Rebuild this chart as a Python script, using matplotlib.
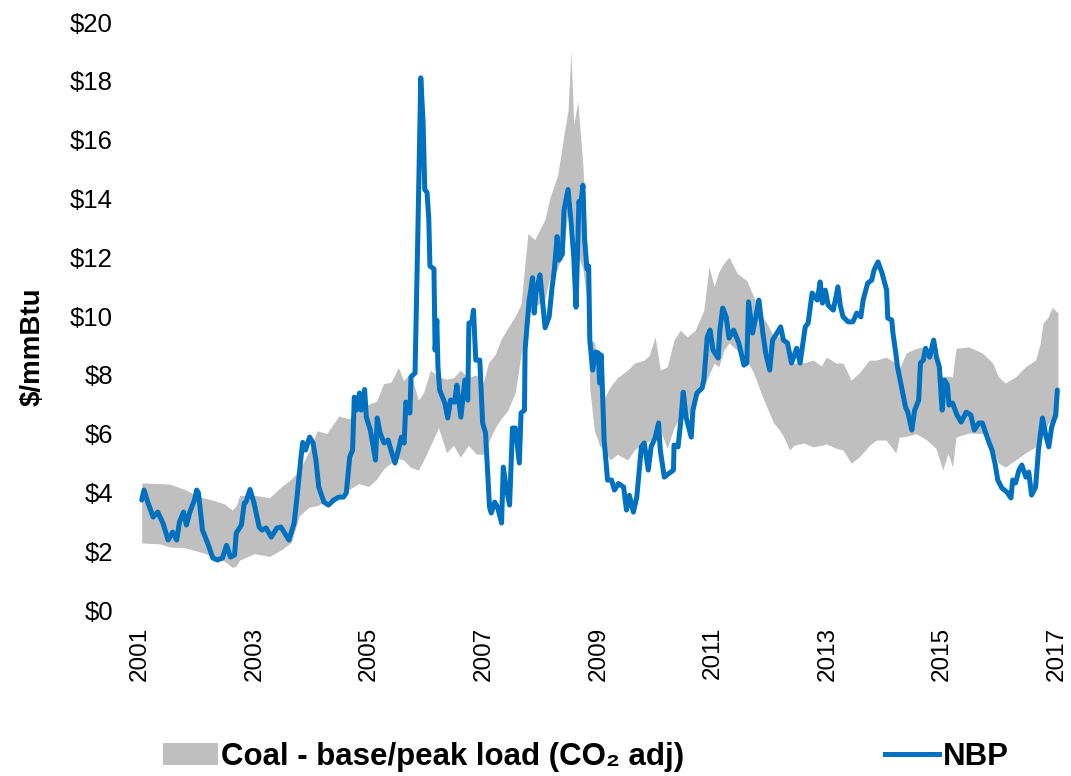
import numpy as np
import matplotlib; matplotlib.use("Agg")
import matplotlib.pyplot as plt
from matplotlib.patches import Patch
from matplotlib.lines import Line2D

plt.rcParams["font.family"] = ["Liberation Sans", "DejaVu Sans"]

# ---- coal band (CO2 adjusted): decimal year, lower/upper $/mmBtu ----
band_year = [2001.03, 2001.35, 2001.52, 2001.78, 2002.04, 2002.30, 2002.48, 2002.61, 2002.68, 2002.74,
             2003.00, 2003.26, 2003.47, 2003.64, 2003.78, 2003.95, 2004.09, 2004.26, 2004.47, 2004.65,
             2004.82, 2004.99, 2005.13, 2005.25, 2005.38, 2005.51, 2005.60, 2005.72, 2005.86, 2005.95,
             2006.07, 2006.21, 2006.35, 2006.47, 2006.59, 2006.73, 2006.87, 2006.99, 2007.08, 2007.20,
             2007.30, 2007.42, 2007.55, 2007.65, 2007.77, 2007.89, 2008.07, 2008.15, 2008.29, 2008.41,
             2008.47, 2008.52, 2008.57, 2008.64, 2008.73, 2008.80, 2008.85, 2008.93, 2009.02, 2009.11,
             2009.21, 2009.33, 2009.51, 2009.63, 2009.80, 2009.89, 2009.99, 2010.08, 2010.20, 2010.32,
             2010.43, 2010.55, 2010.69, 2010.84, 2010.93, 2011.02, 2011.10, 2011.19, 2011.28, 2011.42,
             2011.59, 2011.71, 2011.82, 2011.94, 2012.06, 2012.16, 2012.23, 2012.34, 2012.41, 2012.58,
             2012.75, 2012.89, 2012.98, 2013.15, 2013.27, 2013.41, 2013.55, 2013.73, 2013.85, 2014.02,
             2014.19, 2014.25, 2014.37, 2014.54, 2014.72, 2014.89, 2015.01, 2015.10, 2015.18, 2015.24,
             2015.46, 2015.70, 2015.88, 2015.98, 2016.10, 2016.28, 2016.45, 2016.63, 2016.71, 2016.76,
             2016.85, 2016.92, 2017.02]
band_high = [4.32, 4.30, 4.28, 4.10, 3.85, 3.72, 3.60, 3.40, 3.55, 3.90,
             3.90, 3.82, 4.20, 4.45, 4.75, 5.40, 6.10, 6.00, 6.60, 6.50,
             6.80, 7.00, 7.10, 7.70, 7.75, 8.25, 7.80, 8.06, 7.14, 7.40,
             8.16, 7.93, 7.85, 7.90, 8.16, 7.90, 8.00, 7.72, 8.40, 8.70,
             9.20, 9.60, 10.0, 10.4, 12.8, 12.6, 13.3, 14.0, 14.8, 16.3,
             17.0, 19.0, 16.5, 17.3, 15.1, 12.1, 9.20, 9.10, 7.90, 7.24,
             7.60, 7.90, 8.16, 8.40, 8.50, 8.67, 9.29, 8.16, 8.27, 9.18,
             9.52, 9.29, 9.52, 10.2, 11.67, 11.0, 11.5, 11.8, 12.0, 11.46,
             11.2, 10.65, 10.1, 9.76, 9.29, 9.30, 9.18, 8.90, 8.40, 8.40,
             8.50, 8.30, 8.60, 8.40, 8.40, 7.82, 8.06, 8.50, 8.50, 8.60,
             8.40, 8.20, 8.74, 8.90, 8.95, 8.60, 7.93, 7.95, 7.93, 8.90,
             8.95, 8.74, 8.40, 7.93, 7.72, 7.93, 8.27, 8.50, 9.08, 9.76,
             9.97, 10.3, 10.1]
band_low = [2.28, 2.25, 2.14, 2.12, 1.98, 1.82, 1.65, 1.45, 1.50, 1.70,
            1.92, 1.82, 2.05, 2.30, 3.20, 3.50, 3.55, 3.70, 3.90, 4.10,
            4.30, 4.20, 4.45, 4.80, 5.00, 5.15, 5.10, 4.85, 4.76, 5.10,
            5.60, 6.20, 5.35, 5.60, 5.20, 5.60, 5.30, 5.30, 5.70, 6.20,
            6.50, 6.80, 7.40, 8.70, 10.1, 10.3, 10.6, 11.3, 11.6, 12.5,
            13.6, 14.0, 13.0, 12.1, 11.6, 10.5, 7.50, 6.10, 5.60, 5.40,
            5.10, 5.30, 5.10, 5.45, 5.68, 5.75, 5.90, 6.12, 5.50, 6.20,
            6.56, 6.50, 7.20, 7.60, 8.00, 8.40, 8.27, 8.84, 9.08, 8.84,
            8.50, 8.06, 7.48, 6.90, 6.36, 6.12, 5.90, 5.44, 5.60, 5.68,
            5.55, 5.60, 5.65, 5.50, 5.44, 5.00, 5.20, 5.60, 5.78, 5.78,
            5.34, 5.88, 5.90, 6.00, 5.80, 5.50, 4.76, 5.34, 4.86, 5.88,
            6.02, 6.00, 5.55, 5.00, 4.86, 5.10, 5.34, 5.55, 5.75, 5.88,
            6.36, 6.45, 6.56]

# ---- NBP gas price: decimal year, $/mmBtu ----
nbp_year = [2001.03, 2001.07, 2001.14, 2001.23, 2001.31, 2001.40, 2001.49, 2001.57, 2001.64, 2001.69,
            2001.76, 2001.81, 2001.87, 2001.95, 2001.99, 2002.02, 2002.09, 2002.18, 2002.27, 2002.35,
            2002.44, 2002.51, 2002.58, 2002.65, 2002.68, 2002.77, 2002.82, 2002.85, 2002.92, 2002.99,
            2003.08, 2003.13, 2003.20, 2003.29, 2003.39, 2003.46, 2003.60, 2003.69, 2003.74, 2003.81,
            2003.84, 2003.89, 2003.96, 2004.02, 2004.07, 2004.12, 2004.21, 2004.29, 2004.38, 2004.47,
            2004.55, 2004.60, 2004.66, 2004.71, 2004.74, 2004.78, 2004.83, 2004.86, 2004.92, 2004.95,
            2005.02, 2005.11, 2005.14, 2005.19, 2005.26, 2005.33, 2005.38, 2005.45, 2005.51, 2005.56,
            2005.61, 2005.64, 2005.71, 2005.73, 2005.80, 2005.85, 2005.90, 2005.94, 2005.97, 2006.01,
            2006.04, 2006.06, 2006.13, 2006.15, 2006.18, 2006.20, 2006.23, 2006.32, 2006.37, 2006.42,
            2006.49, 2006.53, 2006.60, 2006.67, 2006.72, 2006.74, 2006.79, 2006.82, 2006.86, 2006.93,
            2006.98, 2007.03, 2007.10, 2007.13, 2007.19, 2007.24, 2007.31, 2007.34, 2007.39, 2007.45,
            2007.50, 2007.55, 2007.62, 2007.65, 2007.71, 2007.72, 2007.79, 2007.85, 2007.88, 2007.91,
            2007.98, 2008.07, 2008.14, 2008.19, 2008.23, 2008.28, 2008.31, 2008.37, 2008.40, 2008.47,
            2008.52, 2008.57, 2008.61, 2008.66, 2008.69, 2008.73, 2008.76, 2008.80, 2008.83, 2008.85,
            2008.90, 2008.95, 2009.00, 2009.02, 2009.05, 2009.10, 2009.16, 2009.23, 2009.28, 2009.35,
            2009.44, 2009.49, 2009.54, 2009.61, 2009.67, 2009.75, 2009.80, 2009.87, 2009.92, 2009.99,
            2010.05, 2010.08, 2010.15, 2010.24, 2010.31, 2010.32, 2010.39, 2010.44, 2010.48, 2010.53,
            2010.62, 2010.65, 2010.72, 2010.81, 2010.84, 2010.90, 2010.95, 2011.00, 2011.09, 2011.12,
            2011.17, 2011.23, 2011.28, 2011.36, 2011.45, 2011.54, 2011.59, 2011.62, 2011.69, 2011.75,
            2011.80, 2011.87, 2011.92, 2011.99, 2012.04, 2012.13, 2012.18, 2012.23, 2012.30, 2012.37,
            2012.46, 2012.52, 2012.61, 2012.66, 2012.73, 2012.82, 2012.87, 2012.91, 2012.96, 2013.01,
            2013.10, 2013.18, 2013.22, 2013.27, 2013.36, 2013.44, 2013.51, 2013.58, 2013.62, 2013.70,
            2013.77, 2013.81, 2013.88, 2013.95, 2014.03, 2014.05, 2014.12, 2014.14, 2014.19, 2014.22,
            2014.29, 2014.36, 2014.40, 2014.47, 2014.52, 2014.59, 2014.62, 2014.67, 2014.71, 2014.78,
            2014.85, 2014.90, 2014.95, 2014.99, 2015.00, 2015.04, 2015.09, 2015.12, 2015.18, 2015.26,
            2015.33, 2015.42, 2015.50, 2015.56, 2015.64, 2015.70, 2015.76, 2015.82, 2015.87, 2015.92,
            2015.97, 2016.04, 2016.13, 2016.20, 2016.23, 2016.28, 2016.34, 2016.39, 2016.46, 2016.51,
            2016.56, 2016.63, 2016.68, 2016.75, 2016.80, 2016.86, 2016.91, 2016.98, 2017.01]
nbp_price = [3.74, 4.08, 3.64, 3.16, 3.33, 2.96, 2.38, 2.65, 2.38, 3.00,
             3.33, 2.89, 3.33, 3.74, 4.08, 3.98, 2.72, 2.28, 1.77, 1.70,
             1.77, 2.20, 1.80, 1.87, 2.62, 2.89, 3.64, 3.67, 4.10, 3.64,
             2.82, 2.72, 2.79, 2.48, 2.79, 2.82, 2.38, 2.96, 3.84, 5.20,
             5.70, 5.44, 5.88, 5.68, 5.10, 4.18, 3.67, 3.57, 3.74, 3.84,
             3.84, 3.98, 5.20, 5.44, 7.24, 6.80, 7.38, 6.80, 7.50, 6.56,
             6.12, 5.10, 6.53, 6.02, 5.68, 5.78, 5.44, 5.00, 5.44, 5.88,
             5.68, 7.07, 6.70, 7.93, 8.06, 12.9, 18.1, 16.6, 14.3, 14.2,
             13.3, 11.7, 11.6, 8.84, 9.86, 8.27, 7.48, 7.04, 6.53, 7.14,
             7.07, 7.65, 6.56, 7.82, 7.14, 9.76, 9.76, 10.2, 8.50, 8.50,
             6.36, 6.02, 3.50, 3.30, 3.67, 3.50, 2.96, 4.86, 4.18, 3.57,
             6.19, 6.19, 5.00, 6.70, 6.80, 8.84, 10.5, 11.3, 10.1, 10.8,
             11.4, 9.60, 9.97, 10.95, 11.56, 12.7, 11.9, 12.1, 13.6, 14.3,
             13.3, 12.0, 10.3, 13.9, 13.7, 14.45, 12.6, 11.6, 11.7, 9.18,
             8.16, 8.78, 8.74, 7.72, 8.67, 5.78, 4.42, 4.42, 4.08, 4.30,
             4.18, 3.40, 3.90, 3.33, 3.84, 5.55, 5.68, 4.76, 5.55, 5.85,
             6.36, 5.44, 4.52, 4.66, 4.76, 5.61, 5.55, 6.46, 7.41, 6.56,
             5.88, 6.80, 7.38, 7.55, 7.82, 9.29, 9.52, 8.84, 8.57, 9.52,
             10.27, 9.97, 9.25, 9.52, 9.08, 8.33, 8.40, 10.48, 9.42, 10.0,
             10.54, 9.42, 8.74, 8.16, 9.18, 9.46, 9.63, 9.18, 9.08, 8.40,
             8.90, 8.40, 9.63, 9.76, 10.78, 10.54, 11.16, 10.44, 10.88, 10.37,
             10.2, 10.99, 10.37, 9.97, 9.80, 9.80, 10.1, 9.97, 10.54, 11.12,
             11.22, 11.56, 11.84, 11.46, 10.88, 9.93, 9.86, 9.42, 8.74, 8.27,
             7.59, 6.90, 6.73, 6.12, 6.80, 7.14, 8.40, 8.50, 8.90, 8.60,
             9.18, 8.60, 8.27, 7.04, 6.80, 7.82, 7.65, 6.97, 7.04, 6.63,
             6.39, 6.73, 6.63, 6.12, 6.36, 6.36, 6.02, 5.68, 5.44, 5.00,
             4.42, 4.15, 4.01, 3.81, 4.42, 4.32, 4.76, 4.93, 4.52, 4.69,
             3.91, 4.18, 5.44, 6.53, 6.02, 5.55, 6.22, 6.63, 7.48]

year_ticks = list(range(2001, 2018, 2))
price_ticks = list(range(0, 21, 2))

COAL_C, NBP_C = "#BFBFBF", "#0070C0"

fig = plt.figure(figsize=(10.71, 7.76), dpi=100)
ax = fig.add_axes([138/1071, 166/776, 924/1071, 588/776])

ax.fill_between(band_year, band_low, band_high, color=COAL_C, lw=0)
ax.plot(nbp_year, nbp_price, color=NBP_C, lw=3.6,
        solid_joinstyle="round", solid_capstyle="round")

PX_YR = 57.3
ax.set_xlim(2001 - 2/PX_YR, 2001 + 922/PX_YR)
ax.set_ylim(0, 20)
ax.set_xticks(year_ticks)
ax.set_xticklabels([str(y) for y in year_ticks], rotation=90, fontsize=17.5)
ax.set_yticks(price_ticks)
ax.set_yticklabels([f"${v}" for v in price_ticks], fontsize=18.5)
ax.tick_params(length=0)
ax.tick_params(axis="x", pad=12)
ax.tick_params(axis="y", pad=18)
for s in ax.spines.values():
    s.set_visible(False)
ax.set_ylabel("$/mmBtu", fontsize=20, fontweight="bold")
ax.yaxis.set_label_coords(-0.1, 0.447)

handles = [Patch(facecolor=COAL_C, edgecolor="none"),
           Line2D([], [], color=NBP_C, lw=3.6)]
labels = ["Coal - base/peak load (CO\u2082 adj)", "NBP"]
fig.legend(handles, labels, loc="center", bbox_to_anchor=(586/1071, 19/776),
           ncol=2, frameon=False, prop={"size": 22.5, "weight": "bold"},
           handlelength=1.75, handleheight=0.7, handletextpad=0.12,
           columnspacing=6.4, borderaxespad=0)

fig.savefig("out.png", dpi=100)
